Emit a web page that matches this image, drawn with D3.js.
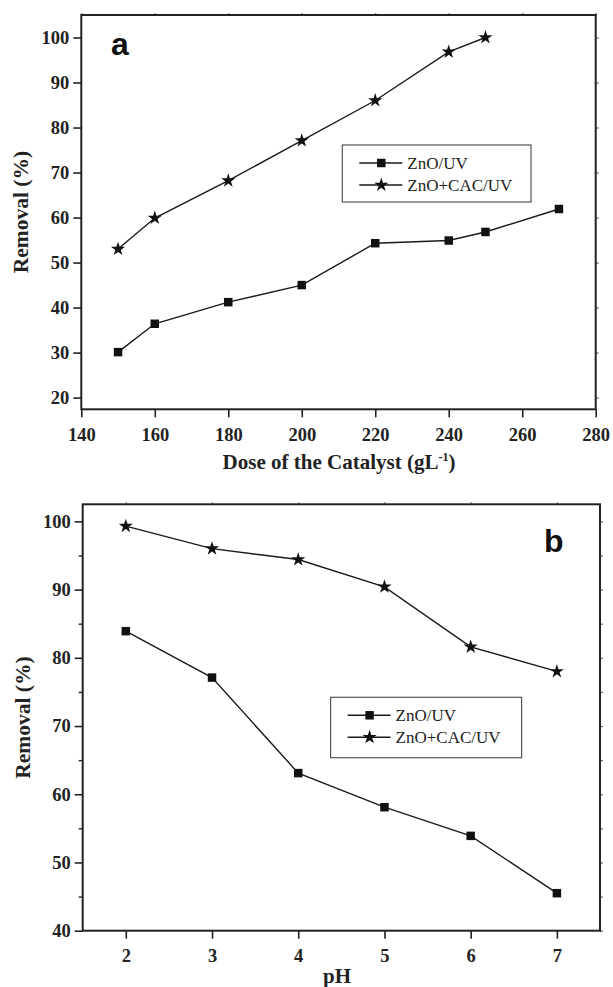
<!DOCTYPE html>
<html>
<head>
<meta charset="utf-8">
<script src="https://cdn.jsdelivr.net/npm/d3@7"></script>
<style>
  body { margin: 0; background: #fff; }
  svg { display: block; }
</style>
</head>
<body>
<svg id="chart" width="613" height="987"></svg>
<script>
// --- data ---
const seriesNames = ['ZnO/UV', 'ZnO+CAC/UV'];

// panel a: dose of catalyst
const doseZnO = [150, 160, 180, 200, 220, 240, 250, 270];
const removalZnODose = [30.1, 36.4, 41.2, 45.0, 54.3, 54.9, 56.8, 61.9];
const doseCAC = [150, 160, 180, 200, 220, 240, 250];
const removalCACDose = [53.0, 59.9, 68.2, 77.1, 86.0, 96.8, 100.0];
const doseTicks = [140, 160, 180, 200, 220, 240, 260, 280];
const removalTicksA = [20, 30, 40, 50, 60, 70, 80, 90, 100];

// panel b: pH
const phValues = [2, 3, 4, 5, 6, 7];
const removalZnOPh = [83.9, 77.1, 63.1, 58.1, 53.9, 45.5];
const removalCACPh = [99.3, 96.0, 94.4, 90.4, 81.6, 78.0];
const phTicks = [2, 3, 4, 5, 6, 7];
const removalTicksB = [40, 50, 60, 70, 80, 90, 100];
const removalMinorB = [45, 55, 65, 75, 85, 95];

const svg = d3.select('#chart');
const serif = '"Liberation Serif", "Times New Roman", serif';
const sans = '"Liberation Sans", Arial, sans-serif';

const markers = [d3.symbolSquare, d3.symbolStar];
const markerSize = [72, 62];

function drawPanel(p) {
  const x = d3.scaleLinear().domain(p.xDomain).range([p.left, p.right]);
  const y = d3.scaleLinear().domain(p.yDomain).range([p.bottom, p.top]);
  const g = svg.append('g');

  // left axis
  const yAxis = g.append('g')
    .attr('transform', `translate(${p.left},0)`)
    .call(d3.axisLeft(y).tickValues(p.yTicks).tickFormat(d3.format('d'))
      .tickSize(8).tickSizeOuter(0).tickPadding(4));
  // bottom axis
  const xAxis = g.append('g')
    .attr('transform', `translate(0,${p.bottom})`)
    .call(d3.axisBottom(x).tickValues(p.xTicks).tickFormat(d3.format('d'))
      .tickSize(8).tickSizeOuter(0).tickPadding(8));
  [xAxis, yAxis].forEach(a => {
    a.select('.domain').remove();
    a.selectAll('line').attr('stroke', '#222').attr('stroke-width', 1.6);
    a.selectAll('text')
      .attr('fill', '#222')
      .style('font-family', serif)
      .style('font-weight', 'bold')
      .style('font-size', '18.5px');
  });
  xAxis.selectAll('text').attr('dy', '0.85em');

  if (p.yMinor) {
    g.append('g')
      .attr('transform', `translate(${p.left},0)`)
      .call(d3.axisLeft(y).tickValues(p.yMinor).tickSize(4).tickFormat(''))
      .call(a => a.select('.domain').remove())
      .selectAll('line').attr('stroke', '#222').attr('stroke-width', 1.4);
  }
  // small ticks on right and top
  g.append('g')
    .attr('transform', `translate(${p.right},0)`)
    .call(d3.axisRight(y).tickValues(p.rightTicks).tickSize(3).tickFormat(''))
    .call(a => a.select('.domain').remove())
    .selectAll('line').attr('stroke', '#666').attr('stroke-width', 1.2);
  g.append('g')
    .attr('transform', `translate(0,${p.top})`)
    .call(d3.axisTop(x).tickValues(p.xTicks).tickSize(2).tickFormat(''))
    .call(a => a.select('.domain').remove())
    .selectAll('line').attr('stroke', '#666').attr('stroke-width', 1.2);

  // frame
  g.append('rect')
    .attr('x', p.left).attr('y', p.top)
    .attr('width', p.right - p.left).attr('height', p.bottom - p.top)
    .attr('fill', 'none').attr('stroke', '#222').attr('stroke-width', 2);

  // series
  const line = d3.line().x(d => x(d[0])).y(d => y(d[1]));
  p.series.forEach((s, i) => {
    const pts = d3.zip(s.x, s.y);
    g.append('path').datum(pts)
      .attr('d', line)
      .attr('fill', 'none').attr('stroke', '#1a1a1a').attr('stroke-width', 1.4);
    g.selectAll(null).data(pts).enter().append('path')
      .attr('transform', d => `translate(${x(d[0])},${y(d[1])})`)
      .attr('d', d3.symbol().type(markers[i]).size(markerSize[i]))
      .attr('fill', '#111');
  });

  // legend
  const L = p.legend;
  g.append('rect')
    .attr('x', L.x).attr('y', L.y).attr('width', L.w).attr('height', L.h)
    .attr('fill', '#fff').attr('stroke', '#555').attr('stroke-width', 1.2);
  seriesNames.forEach((name, i) => {
    const ly = L.y + 18 + i * 22;
    g.append('line')
      .attr('x1', L.x + 17).attr('x2', L.x + 60)
      .attr('y1', ly).attr('y2', ly)
      .attr('stroke', '#1a1a1a').attr('stroke-width', 1.4);
    g.append('path')
      .attr('transform', `translate(${L.x + 39},${ly})`)
      .attr('d', d3.symbol().type(markers[i]).size(markerSize[i]))
      .attr('fill', '#111');
    g.append('text')
      .attr('x', L.x + 65).attr('y', ly + 6)
      .style('font-family', serif).style('font-size', '17px')
      .attr('fill', '#222')
      .text(name);
  });

  // panel letter
  g.append('text')
    .attr('x', p.letter.x).attr('y', p.letter.y)
    .style('font-family', sans).style('font-weight', 'bold').style('font-size', '32px')
    .attr('fill', '#111')
    .text(p.letter.t);

  // y title
  g.append('text')
    .attr('transform', `translate(${p.left - 53},${(p.top + p.bottom) / 2}) rotate(-90)`)
    .attr('text-anchor', 'middle')
    .style('font-family', serif).style('font-weight', 'bold').style('font-size', '21.5px')
    .attr('fill', '#222')
    .text('Removal (%)');

  return g;
}

const ga = drawPanel({
  left: 81.3, right: 595.7, top: 15, bottom: 409.3,
  xDomain: [140, 280], yDomain: [17.4, 105],
  xTicks: doseTicks, yTicks: removalTicksA, rightTicks: removalTicksA,
  series: [{ x: doseZnO, y: removalZnODose }, { x: doseCAC, y: removalCACDose }],
  legend: { x: 342.3, y: 145, w: 188.7, h: 57 },
  letter: { x: 111, y: 55, t: 'a' }
});
const xt = ga.append('text')
  .attr('x', 339).attr('y', 469)
  .attr('text-anchor', 'middle')
  .style('font-family', serif).style('font-weight', 'bold').style('font-size', '21px')
  .attr('fill', '#222');
xt.append('tspan').text('Dose of the Catalyst (gL');
xt.append('tspan').attr('dy', -8).style('font-size', '12px').text('-1');
xt.append('tspan').attr('dy', 8).text(')');

const gb = drawPanel({
  left: 82.7, right: 600, top: 504.3, bottom: 930.7,
  xDomain: [1.5, 7.5], yDomain: [40, 102.5],
  xTicks: phTicks, yTicks: removalTicksB, yMinor: removalMinorB,
  rightTicks: removalTicksB.concat(removalMinorB),
  series: [{ x: phValues, y: removalZnOPh }, { x: phValues, y: removalCACPh }],
  legend: { x: 330.6, y: 697.3, w: 191, h: 60.4 },
  letter: { x: 544, y: 552, t: 'b' }
});
gb.append('text')
  .attr('x', 337).attr('y', 983)
  .attr('text-anchor', 'middle')
  .style('font-family', serif).style('font-weight', 'bold').style('font-size', '21px')
  .attr('fill', '#222')
  .text('pH');
</script>
</body>
</html>
